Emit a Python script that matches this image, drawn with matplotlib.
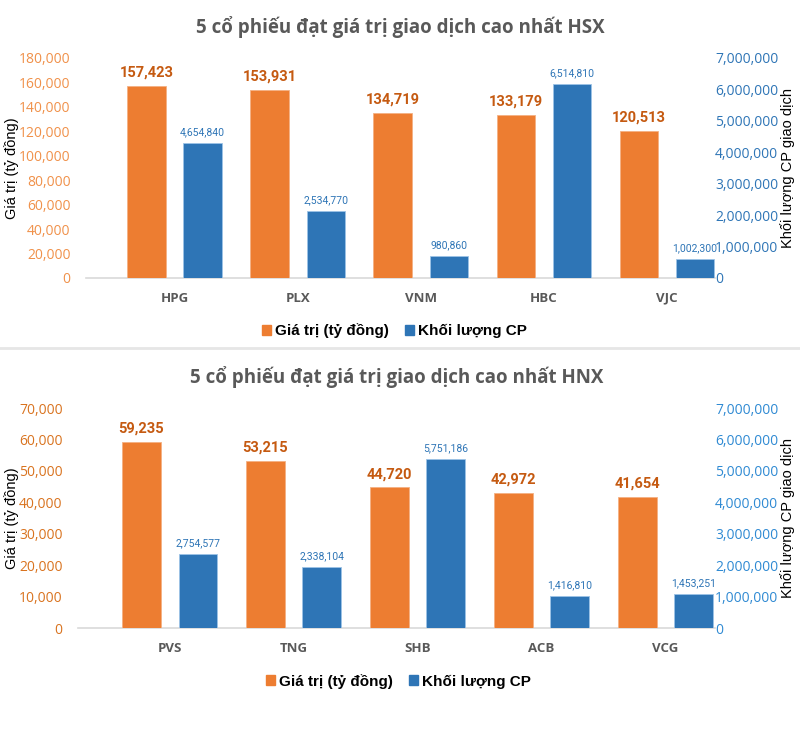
import matplotlib
matplotlib.use('Agg')
import matplotlib.pyplot as plt
from matplotlib.ticker import FuncFormatter
from matplotlib.patches import Patch
from matplotlib.lines import Line2D

# data
hsx_codes = ['HPG', 'PLX', 'VNM', 'HBC', 'VJC']
hsx_value = [157423, 153931, 134719, 133179, 120513]
hsx_volume = [4654840, 2534770, 980860, 6514810, 1002300]
# the blue bars in the source are not drawn at their labelled heights
hsx_volume_bar = [4300000, 2130000, 710000, 6170000, 600000]

hnx_codes = ['PVS', 'TNG', 'SHB', 'ACB', 'VCG']
hnx_value = [59235, 53215, 44720, 42972, 41654]
hnx_volume = [2754577, 2338104, 5751186, 1416810, 1453251]
hnx_volume_bar = [2360000, 1950000, 5370000, 1020000, 1080000]

ORANGE = '#ED7D31'
BLUE = '#2E75B6'
GRAY = '#595959'

plt.rcParams['font.family'] = ['Open Sans', 'DejaVu Sans']
NARROW = ['Liberation Sans Narrow', 'Roboto', 'DejaVu Sans']
ARIAL = ['Liberation Sans', 'DejaVu Sans']

comma = FuncFormatter(lambda v, p: f'{int(v):,}')


def draw_panel(fig, rect, title, codes, value, volume, volume_bar, vmax, vstep,
               left_tick_color, right_tick_color, xlim):
    ax = fig.add_axes(rect)
    ax2 = ax.twinx()
    x = list(range(len(codes)))
    off = 0.228
    w = 0.313
    ax.bar([i - off for i in x], value, width=w, color=ORANGE, edgecolor='#F4B183', linewidth=0.6, zorder=3)
    ax2.bar([i + off for i in x], volume_bar, width=w, color=BLUE, edgecolor='#9DC3E6', linewidth=0.6, zorder=3)

    for i, v in enumerate(value):
        ax.annotate(f'{v:,}', (i - off, v), xytext=(0, 4.5), textcoords='offset points',
                    ha='center', va='bottom', fontsize=10.5, fontweight='bold',
                    color='#C55A11', family=NARROW)
    for i, (v, h) in enumerate(zip(volume, volume_bar)):
        ax2.annotate(f'{v:,}', (i + off, h), xytext=(0, 4), textcoords='offset points',
                     ha='center', va='bottom', fontsize=7.5, color=BLUE, family=NARROW)

    ax.set_ylim(0, vmax)
    ax.set_yticks(range(0, vmax + 1, vstep))
    ax.yaxis.set_major_formatter(comma)
    ax2.set_ylim(0, 7000000)
    ax2.set_yticks(range(0, 7000001, 1000000))
    ax2.yaxis.set_major_formatter(comma)
    ax.set_xlim(*xlim)
    ax.set_xticks(x)
    ax.set_xticklabels(codes, fontsize=9.5, fontweight='bold', color=GRAY)

    ax.tick_params(axis='y', length=0, pad=11, labelsize=10, labelcolor=left_tick_color)
    ax2.tick_params(axis='y', length=0, pad=0, labelsize=10, labelcolor=right_tick_color)
    ax.tick_params(axis='x', length=0, pad=10)
    for a in (ax, ax2):
        for s in a.spines.values():
            s.set_visible(False)
    ax.spines['bottom'].set_visible(True)
    ax.spines['bottom'].set_color('#D9D9D9')
    ax.spines['bottom'].set_linewidth(1.2)

    # axis titles placed in figure pixels so they stay inside the canvas
    yc = rect[1] + rect[3] / 2
    fig.text(12 / 800, yc, 'Giá trị (tỷ đồng)', rotation=90, ha='center', va='center',
             fontsize=10.5, family=ARIAL)
    fig.text(788 / 800, yc, 'Khối lượng CP giao dịch', rotation=90, ha='center', va='center',
             fontsize=10.5, family=ARIAL)
    ax.set_title(title, fontsize=13.5, fontweight='bold', color=GRAY, pad=18)

    handles = [Patch(color=ORANGE), Patch(color=BLUE)]
    ax.legend(handles, ['Giá trị (tỷ đồng)', 'Khối lượng CP'], loc='upper center',
              bbox_to_anchor=(0.5 - (rect[0] - 0.1) / rect[2], -0.145), ncol=2, frameon=False,
              prop={'weight': 'bold', 'size': 11, 'family': ARIAL}, handlelength=0.6,
              handleheight=0.6, handletextpad=0.3, columnspacing=1.0)
    return ax


fig = plt.figure(figsize=(8, 7.29), dpi=100)

draw_panel(fig, [0.1075, 0.6187, 0.7862, 0.3018], '5 cổ phiếu đạt giá trị giao dịch cao nhất HSX',
           hsx_codes, hsx_value, hsx_volume, hsx_volume_bar, 180000, 20000,
           '#F0914A', BLUE, (-0.72, 4.39))
draw_panel(fig, [0.0975, 0.1385, 0.7962, 0.3018], '5 cổ phiếu đạt giá trị giao dịch cao nhất HNX',
           hnx_codes, hnx_value, hnx_volume, hnx_volume_bar, 70000, 10000,
           '#D9731F', '#2F8AD3', (-0.74, 4.40))

# separator between the two charts
fig.add_artist(Line2D([0, 1], [1 - 348 / 729, 1 - 348 / 729], color='#E6E6E6', linewidth=2))

fig.savefig('out.png', dpi=100)
